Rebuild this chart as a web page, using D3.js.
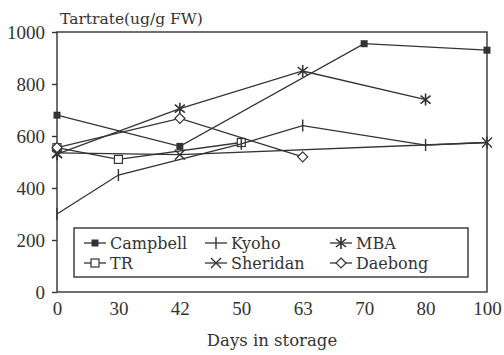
<!DOCTYPE html>
<html>
<head>
<meta charset="utf-8">
<script src="https://cdn.jsdelivr.net/npm/d3@7"></script>
<style>
  body { margin: 0; background: #fff; }
  text { font-family: "DejaVu Serif", "Liberation Serif", serif; fill: #333; }
</style>
</head>
<body>
<div id="chart"></div>
<script>
const days = ["0", "30", "42", "50", "63", "70", "80", "100"];
const yTicks = [0, 200, 400, 600, 800, 1000];

// [day, value] pairs
const campbell = [["0", 680], ["42", 560], ["70", 955], ["100", 930]];
const tr = [["0", 555], ["30", 510], ["50", 575]];
const kyoho = [["0", 300], ["30", 450], ["50", 570], ["63", 640], ["80", 565], ["100", 575]];
const sheridan = [["0", 535], ["42", 528], ["100", 575]];
const mba = [["0", 530], ["42", 705], ["63", 850], ["80", 740]];
const daebong = [["0", 555], ["42", 668], ["63", 520]];

const seriesNames = ["Campbell", "TR", "Kyoho", "Sheridan", "MBA", "Daebong"];
const seriesData = [campbell, tr, kyoho, sheridan, mba, daebong];

const ink = "#333";
const tickFont = "Liberation Serif, serif";
const width = 504, height = 355;
const margin = { top: 32, right: 17, bottom: 63, left: 57 };

const svg = d3.select("#chart").append("svg")
  .attr("width", width)
  .attr("height", height);

const x = d3.scalePoint().domain(days).range([margin.left, width - margin.right]);
const y = d3.scaleLinear().domain([0, 1000]).range([height - margin.bottom, margin.top]);

// frame: left + bottom axes, plus top and right borders
svg.append("rect")
  .attr("x", margin.left)
  .attr("y", margin.top)
  .attr("width", width - margin.left - margin.right)
  .attr("height", height - margin.top - margin.bottom)
  .attr("fill", "none")
  .attr("stroke", ink)
  .attr("stroke-width", 1.4);

const yAxis = svg.append("g")
  .attr("transform", `translate(${margin.left},0)`)
  .call(d3.axisLeft(y).tickValues(yTicks).tickFormat(d3.format("d")).tickSize(5).tickPadding(7));
yAxis.select(".domain").remove();
yAxis.selectAll("line").attr("stroke", ink).attr("stroke-width", 1.4);
yAxis.selectAll("text")
  .style("font-family", tickFont)
  .style("font-size", "19px")
  .attr("fill", ink);

const xAxis = svg.append("g")
  .attr("transform", `translate(0,${height - margin.bottom})`)
  .call(d3.axisBottom(x).tickSize(0).tickPadding(10));
xAxis.select(".domain").remove();
xAxis.selectAll("text")
  .style("font-family", tickFont)
  .style("font-size", "19px")
  .attr("fill", ink);

svg.append("text")
  .attr("x", 60)
  .attr("y", 24)
  .style("font-size", "15.5px")
  .text("Tartrate(ug/g FW)");

svg.append("text")
  .attr("x", 272)
  .attr("y", 346)
  .style("text-anchor", "middle")
  .style("font-size", "16.5px")
  .text("Days in storage");

// marker drawing, one function per symbol
function drawMarker(g, name, cx, cy) {
  if (name === "Campbell") {
    g.append("rect").attr("x", cx - 3.5).attr("y", cy - 3.5).attr("width", 7).attr("height", 7)
      .attr("fill", ink);
  } else if (name === "TR") {
    g.append("rect").attr("x", cx - 4).attr("y", cy - 4).attr("width", 8).attr("height", 8)
      .attr("fill", "#fff").attr("stroke", ink).attr("stroke-width", 1.2);
  } else if (name === "Kyoho") {
    g.append("line").attr("x1", cx).attr("x2", cx).attr("y1", cy - 6).attr("y2", cy + 6)
      .attr("stroke", ink).attr("stroke-width", 1.4);
  } else if (name === "Sheridan") {
    g.append("path").attr("d", `M${cx - 5},${cy - 5}L${cx + 5},${cy + 5}M${cx - 5},${cy + 5}L${cx + 5},${cy - 5}`)
      .attr("stroke", ink).attr("stroke-width", 1.4);
  } else if (name === "MBA") {
    g.append("path").attr("d", `M${cx},${cy - 6}L${cx},${cy + 6}M${cx - 5},${cy - 4}L${cx + 5},${cy + 4}M${cx - 5},${cy + 4}L${cx + 5},${cy - 4}`)
      .attr("stroke", ink).attr("stroke-width", 1.6);
  } else if (name === "Daebong") {
    g.append("path").attr("d", `M${cx},${cy - 5}L${cx + 5},${cy}L${cx},${cy + 5}L${cx - 5},${cy}Z`)
      .attr("fill", "#fff").attr("stroke", ink).attr("stroke-width", 1.2);
  }
}

const line = d3.line()
  .x(d => x(d[0]))
  .y(d => y(d[1]));

seriesData.forEach((data, i) => {
  const g = svg.append("g");
  g.append("path")
    .datum(data)
    .attr("d", line)
    .attr("fill", "none")
    .attr("stroke", ink)
    .attr("stroke-width", 1.3);
  data.forEach(d => drawMarker(g, seriesNames[i], x(d[0]), y(d[1])));
});

// legend box
const legend = svg.append("g");
legend.append("rect")
  .attr("x", 74)
  .attr("y", 228)
  .attr("width", 394)
  .attr("height", 49)
  .attr("fill", "#fff")
  .attr("stroke", ink)
  .attr("stroke-width", 1.4);

const legendCols = [84, 205, 330];
seriesNames.forEach((name, i) => {
  const col = legendCols[Math.floor(i / 2)];
  const cy = 243 + (i % 2) * 20;
  const g = legend.append("g");
  g.append("line")
    .attr("x1", col).attr("x2", col + 22)
    .attr("y1", cy).attr("y2", cy)
    .attr("stroke", ink).attr("stroke-width", 1.3);
  drawMarker(g, name, col + 11, cy);
  g.append("text")
    .attr("x", col + 26)
    .attr("y", cy + 6)
    .style("font-size", "16px")
    .text(name);
});
</script>
</body>
</html>
